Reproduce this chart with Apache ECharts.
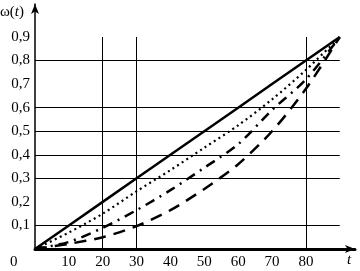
<!DOCTYPE html>
<html>
<head>
<meta charset="utf-8">
<script src="https://cdn.jsdelivr.net/npm/echarts@6/dist/echarts.min.js"></script>
<style>
  html, body { margin: 0; padding: 0; background: #fff; }
  #chart { width: 360px; height: 271px; }
</style>
</head>
<body>
<div id="chart"></div>
<script>
// t axis points
const tValues = [0, 10, 20, 30, 40, 50, 60, 70, 80, 90];
// curves
const solidLine = [0, 0.1, 0.2, 0.3, 0.4, 0.5, 0.6, 0.7, 0.8, 0.9];
const dottedLine = [0, 0.07, 0.15, 0.245, 0.335, 0.43, 0.525, 0.635, 0.76, 0.9];
const dashDotLine = [0, 0.03, 0.09, 0.165, 0.25, 0.345, 0.445, 0.59, 0.72, 0.9];
const dashedLine = [0, 0.022, 0.05, 0.097, 0.165, 0.255, 0.36, 0.5, 0.68, 0.9];
// grid lines that survive in the figure
const gridRows = [0.1, 0.3, 0.4, 0.5, 0.6, 0.8];
const gridCols = [20, 30, 80];
const xLabels = ["10", "20", "30", "40", "50", "60", "70", "80"];
const yLabels = ["0,1", "0,2", "0,3", "0,4", "0,5", "0,6", "0,7", "0,8", "0,9"];

const serif = "Liberation Serif";
const chart = echarts.init(document.getElementById("chart"));

function pairs(ys) {
  return tValues.map((t, i) => [t, ys[i]]);
}

const gridLines = [];
gridRows.forEach((v) => gridLines.push([{ coord: [0, v] }, { coord: [90, v] }]));
gridCols.forEach((t) => gridLines.push([{ coord: [t, 0] }, { coord: [t, 0.9] }]));

const option = {
  animation: false,
  grid: { left: 35, right: 5, top: 4, bottom: 22, containLabel: false },
  xAxis: {
    type: "value",
    min: 0,
    max: 94.5,
    interval: 10,
    axisLine: { lineStyle: { color: "#000", width: 3 }, symbol: ["none", "arrow"], symbolSize: [6, 10] },
    axisTick: { show: false },
    splitLine: { show: false },
    axisLabel: {
      color: "#000",
      fontFamily: serif,
      fontSize: 15,
      margin: 6,
      formatter: (v) => xLabels[Math.round(v / 10) - 1] || "",
    },
  },
  yAxis: {
    type: "value",
    min: 0,
    max: 1.04,
    interval: 0.1,
    axisLine: { show: true, lineStyle: { color: "#000", width: 1.5 }, symbol: ["none", "arrow"], symbolSize: [6, 10] },
    axisTick: { show: false },
    splitLine: { show: false },
    axisLabel: {
      color: "#000",
      fontFamily: serif,
      fontSize: 15,
      margin: 5,
      formatter: (v) => yLabels[Math.round(v * 10) - 1] || "",
    },
  },
  graphic: [
    {
      type: "text", left: 0, top: 5,
      style: {
        text: "ω({i|t})", font: "15px " + serif, fill: "#000",
        rich: { i: { fontStyle: "italic", fontFamily: serif, fontSize: 15 } },
      },
    },
    { type: "text", left: 10, top: 255, style: { text: "0", font: "15px " + serif, fill: "#000" } },
    { type: "text", left: 347, top: 253, style: { text: "t", font: "italic 15px " + serif, fill: "#000" } },
  ],
  series: [
    {
      type: "line",
      data: pairs(solidLine),
      showSymbol: false,
      lineStyle: { color: "#000", width: 2.5 },
      markLine: {
        silent: true,
        symbol: "none",
        label: { show: false },
        lineStyle: { color: "#000", width: 1, type: "solid" },
        data: gridLines,
      },
    },
    {
      type: "line",
      data: pairs(dottedLine),
      smooth: 0.3,
      showSymbol: false,
      lineStyle: { color: "#000", width: 2.2, type: [2, 3.5] },
    },
    {
      type: "line",
      data: pairs(dashDotLine),
      smooth: 0.3,
      showSymbol: false,
      lineStyle: { color: "#000", width: 2.5, type: [10, 6, 2, 6] },
    },
    {
      type: "line",
      data: pairs(dashedLine),
      smooth: 0.3,
      showSymbol: false,
      lineStyle: { color: "#000", width: 2.5, type: [12, 8] },
    },
  ],
};

chart.setOption(option);
</script>
</body>
</html>
